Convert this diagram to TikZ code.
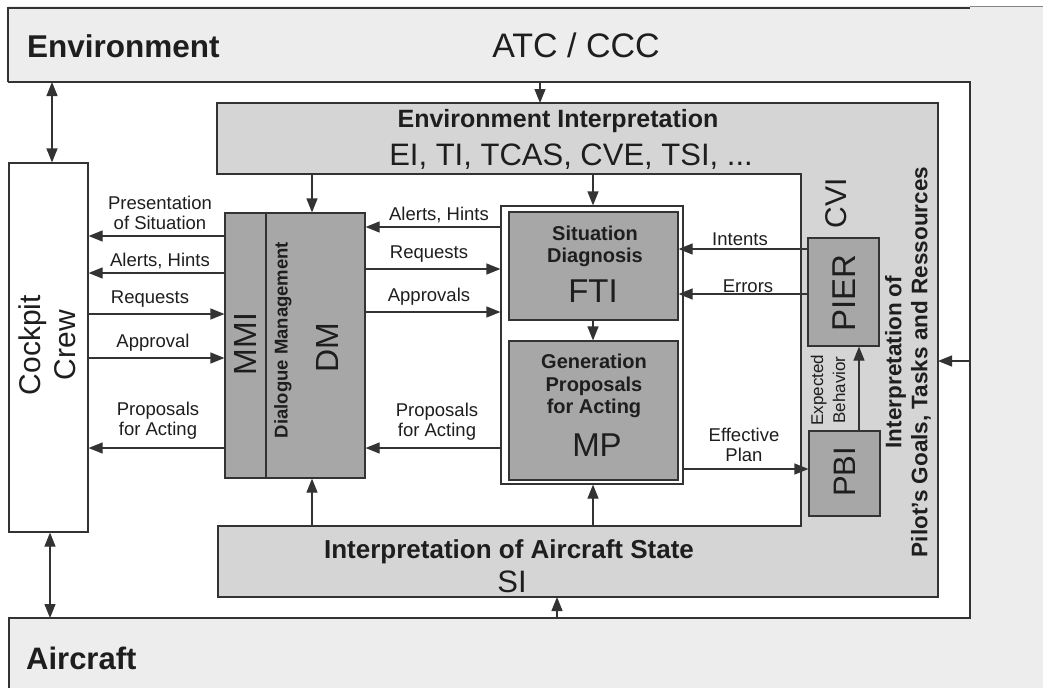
\documentclass[tikz,border=0pt]{standalone}
\usepackage{fontspec}
\setmainfont{Liberation Sans}
\usetikzlibrary{arrows.meta}
\definecolor{bgc}{HTML}{EDEDED}
\definecolor{mg}{HTML}{D5D5D6}
\definecolor{dg}{HTML}{A7A7A8}
\definecolor{lc}{HTML}{333333}
\definecolor{tc}{HTML}{1E1E1E}
\newcommand\fsz[2]{\fontsize{#1}{#2}\selectfont}
\tikzset{
  ln/.style={draw=lc,line width=1.2pt},
  arr/.style={ln,-{Triangle[length=14pt,width=11pt]}},
  darr/.style={ln,{Triangle[length=14pt,width=11pt]}-{Triangle[length=14pt,width=11pt]}},
  box/.style={draw=lc,line width=1.2pt,inner sep=0pt},
  ghost/.style={inner sep=0pt,outer sep=0pt},
  lbl/.style={font=\fsz{18.5}{20}, text=tc, align=center, inner sep=0pt},
  big/.style={font=\fsz{32}{36}, text=tc, inner sep=0pt},
  bold/.style={font=\bfseries\fsz{20}{22}, text=tc, align=center, inner sep=0pt}
}
\begin{document}
\begin{tikzpicture}[x=1pt,y=-1pt]
\useasboundingbox (0,0) rectangle (1043,688);
% backgrounds
\fill[bgc] (8,6) rectangle (1043,688);
\fill[white] (8,82) rectangle (970,618);
\draw[ln] (8,82) -- (8,8) -- (970,8);
\draw[draw=lc!60,line width=0.8pt] (970,6) -- (1043,6);
\draw[ln] (8,82) -- (970,82) -- (970,618) -- (9,618) -- (9,688);
% region nodes
\node[ghost,minimum width=962,minimum height=74] (env) at (489,45) {};
\node[ghost,minimum width=961,minimum height=70] (air) at (489.5,653) {};
\node[ghost,minimum width=73,minimum height=536] (strip) at (1006.5,350) {};
\node[text=tc,font=\bfseries\fsz{31.5}{34},anchor=west,inner sep=0pt] (envt) at (27,46) {Environment};
\node[text=tc,font=\fsz{34}{38},inner sep=0pt] (atc) at (576,45) {ATC / CCC};
\node[text=tc,font=\bfseries\fsz{31}{34},anchor=west,inner sep=0pt] (airt) at (26,658) {Aircraft};
% EI / SI U-shaped region
\filldraw[fill=mg,ln] (217,103) -- (938,103) -- (938,597) -- (218,597) -- (218,526) -- (801,526) -- (801,174) -- (217,174) -- cycle;
\node[ghost,minimum width=721,minimum height=71] (ei) at (577.5,138.5) {};
\node[ghost,minimum width=720,minimum height=71] (si) at (578,561.5) {};
\node[ghost,minimum width=137,minimum height=494] (cvi) at (869.5,350) {};
\node[text=tc,font=\bfseries\fsz{25}{28},inner sep=0pt] (eit) at (558,121) {Environment Interpretation};
\node[text=tc,font=\fsz{31}{34},inner sep=0pt] (eil) at (571,157) {EI, TI, TCAS, CVE, TSI, ...};
\node[text=tc,font=\bfseries\fsz{26}{28},inner sep=0pt] (sit) at (509,552) {Interpretation of Aircraft State};
\node[text=tc,font=\fsz{31}{34},inner sep=0pt] (sil) at (512,582) {SI};
\node[text=tc,font=\fsz{30}{34},inner sep=0pt,rotate=90] (cvit) at (836,203) {CVI};
\node[text=tc,font=\bfseries\fsz{22.5}{26},align=center,inner sep=0pt,rotate=90] (pgt) at (908,362) {Interpretation of\\Pilot's Goals, Tasks and Ressources};
% boxes
\node[box,fill=white,minimum width=79,minimum height=369] (crew) at (48.5,347.5) {};
\node[text=tc,font=\fsz{30}{35},align=center,inner sep=0pt,rotate=90] (crewt) at (47,345) {Cockpit\\Crew};
\node[box,fill=dg,minimum width=140,minimum height=265] (dm) at (295,345.5) {};
\draw[ln] (266,213) -- (266,478);
\node[big,rotate=90] (mmit) at (245,344) {MMI};
\node[bold,font=\bfseries\fsz{18.5}{20},rotate=90] (dlg) at (283,340) {Dialogue Management};
\node[big,rotate=90] (dmt) at (327,348) {DM};
\node[box,fill=white,minimum width=182,minimum height=278] (outer) at (592,345) {};
\node[box,fill=dg,minimum width=169,minimum height=108] (fti) at (593.5,266) {};
\node[box,fill=dg,minimum width=169,minimum height=139] (mp) at (593.5,410.5) {};
\node[bold] (sdt) at (595,246) {Situation\\Diagnosis};
\node[big,font=\fsz{33}{36}] (ftit) at (593,291) {FTI};
\node[bold,font=\bfseries\fsz{20}{22.5}] (gpt) at (594,386) {Generation\\Proposals\\for Acting};
\node[big,font=\fsz{33}{36}] (mpt) at (597,445) {MP};
\node[box,fill=dg,minimum width=71,minimum height=108] (pier) at (843.5,292) {};
\node[big,font=\fsz{33}{36},rotate=90] (piert) at (844,293) {PIER};
\node[box,fill=dg,minimum width=71,minimum height=85] (pbi) at (844.5,473.5) {};
\node[big,font=\fsz{31}{34},rotate=90] (pbit) at (845,472) {PBI};
% outer connectors
\draw[darr] (env.south -| 52,0) -- (crew.north -| 52,0);
\draw[darr] (crew.south -| 50,0) -- (air.north -| 50,0);
\draw[arr] (env.south -| 540,0) -- (ei.north -| 540,0);
\draw[arr] (air.north -| 557,0) -- (si.south -| 557,0);
\draw[arr] (strip.west |- 0,361) -- (cvi.east |- 0,361);
\draw[arr] (ei.south -| 312,0) -- (dm.north -| 312,0);
\draw[arr] (si.north -| 312,0) -- (dm.south -| 312,0);
\draw[arr] (ei.south -| 593,0) -- (outer.north -| 593,0);
\draw[arr] (si.north -| 593,0) -- (outer.south -| 593,0);
\draw[arr] (fti.south -| 593,0) -- (mp.north -| 593,0);
% crew <-> MMI
\draw[arr] (dm.west |- 0,236) -- (crew.east |- 0,236);
\draw[arr] (dm.west |- 0,273) -- (crew.east |- 0,273);
\draw[arr] (crew.east |- 0,314) -- (dm.west |- 0,314);
\draw[arr] (crew.east |- 0,358) -- (dm.west |- 0,358);
\draw[arr] (dm.west |- 0,448) -- (crew.east |- 0,448);
\node[lbl] (l1) at (160,213) {Presentation\\of Situation};
\node[lbl] (l2) at (160,261) {Alerts, Hints};
\node[lbl] (l3) at (150,299) {Requests};
\node[lbl] (l4) at (153,343) {Approval};
\node[lbl] (l5) at (158,421) {Proposals\\for Acting};
% DM <-> FTI/MP
\draw[arr] (outer.west |- 0,227) -- (dm.east |- 0,227);
\draw[arr] (dm.east |- 0,269) -- (outer.west |- 0,269);
\draw[arr] (dm.east |- 0,312) -- (outer.west |- 0,312);
\draw[arr] (outer.west |- 0,448) -- (dm.east |- 0,448);
\node[lbl] (r1) at (439,215) {Alerts, Hints};
\node[lbl] (r2) at (429,254) {Requests};
\node[lbl] (r3) at (429,297) {Approvals};
\node[lbl] (r4) at (437,421.5) {Proposals\\for Acting};
% PIER / PBI
\draw[arr] (pier.west |- 0,249) -- (fti.east |- 0,249);
\draw[arr] (pier.west |- 0,294) -- (fti.east |- 0,294);
\draw[arr] (outer.east |- 0,469) -- (pbi.west |- 0,469);
\draw[arr] (pbi.north -| 859,0) -- (pier.south -| 859,0);
\node[lbl] (i1) at (740,239) {Intents};
\node[lbl] (i2) at (748,286) {Errors};
\node[lbl] (i3) at (744,445) {Effective\\Plan};
\node[lbl,font=\fsz{17}{22},rotate=90] (i4) at (828,390) {Expected\\Behavior};
\end{tikzpicture}
\end{document}
